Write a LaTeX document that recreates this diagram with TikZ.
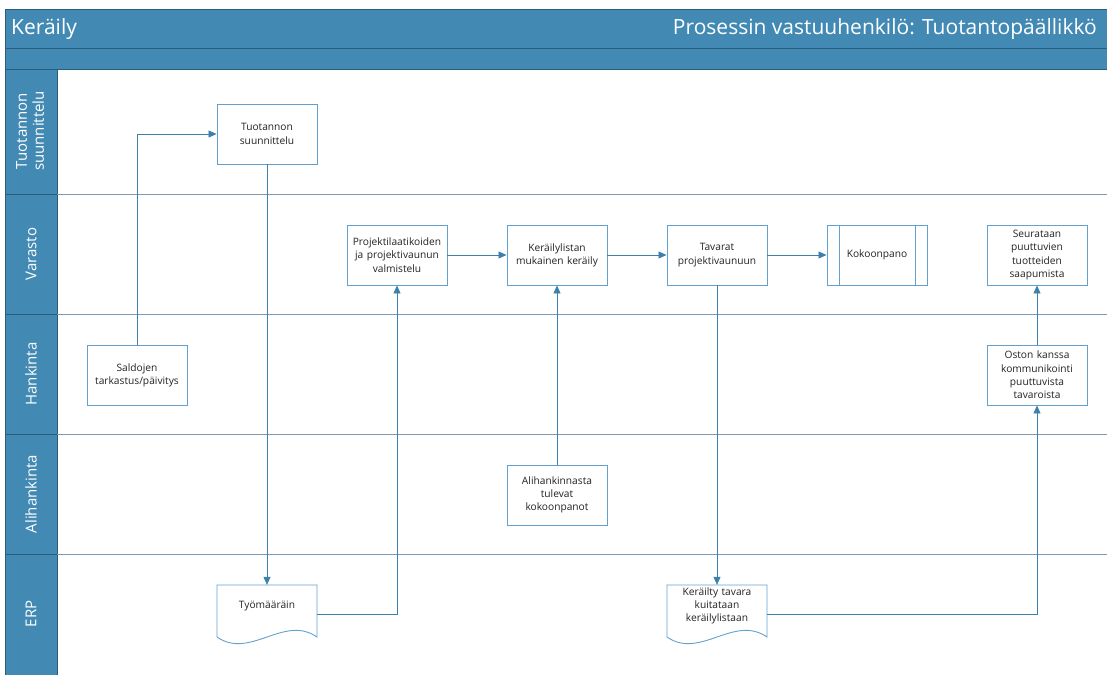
\documentclass[tikz,border=0pt]{standalone}
\usepackage{fontspec}
\setmainfont{Open Sans}
\usetikzlibrary{arrows.meta,calc}
\definecolor{hdr}{RGB}{66,138,180}
\definecolor{hdrline}{RGB}{45,92,122}
\definecolor{boxline}{RGB}{100,160,205}
\definecolor{conn}{RGB}{62,128,172}
\definecolor{laneline}{RGB}{125,155,180}
\definecolor{txt}{RGB}{35,35,35}
\begin{document}
\begin{tikzpicture}[x=1pt,y=-1pt,
  proc/.style={draw=boxline, line width=0.9pt, fill=white, minimum width=100pt, minimum height=60pt,
    align=center, text=txt, font=\fontsize{10.2}{13.3}\selectfont, inner sep=2pt, text width=96pt},
  doctext/.style={minimum width=100pt, minimum height=42pt, align=center, text=txt,
    font=\fontsize{10.2}{13.3}\selectfont, inner sep=2pt, text width=96pt},
  docline/.style={draw=boxline, line width=0.9pt, fill=white},
  flow/.style={draw=conn, line width=0.8pt, -{Triangle[length=8pt,width=7pt]}},
  lanelbl/.style={rotate=90, text=white, align=center, font=\fontsize{15}{17}\selectfont},
  titletext/.style={text=white, font=\fontsize{21}{25}\selectfont, inner sep=0pt}]
\useasboundingbox (0,0) rectangle (1107,675);
\fill[white] (0,0) rectangle (1107,675);
% header
\fill[hdr] (5,9) rectangle (1107,69);
\fill[hdr] (5,69) rectangle (57,675);
\draw[hdrline, line width=0.8pt] (1107,9) -- (5,9) -- (5,675);
\draw[hdrline, line width=0.8pt] (5,48) -- (1107,48);
\draw[hdrline, line width=1pt] (5,69) -- (1107,69);
\draw[hdrline, line width=0.8pt] (57,69) -- (57,675);
\foreach \yy in {194,314,434,554}{
  \draw[hdrline, line width=0.8pt] (5,\yy) -- (57,\yy);
  \draw[laneline, line width=0.8pt] (57,\yy) -- (1107,\yy);
}
\node[titletext, anchor=west] (title) at (11,29) {Keräily};
\node[titletext, anchor=east] (owner) at (1097,29) {Prosessin vastuuhenkilö: Tuotantopäällikkö};
% lane labels
\node[lanelbl] (lane1) at (30,131) {Tuotannon\\suunnittelu};
\node[lanelbl] (lane2) at (31,254) {Varasto};
\node[lanelbl] (lane3) at (31,374) {Hankinta};
\node[lanelbl] (lane4) at (31,494) {Alihankinta};
\node[lanelbl] (lane5) at (31,614) {ERP};
% process nodes
\node[proc] (tuot) at (267,134) {Tuotannon\\suunnittelu};
\node[proc] (sald) at (137,375) {Saldojen\\tarkastus/päivitys};
\node[proc] (proj) at (397,255) {Projektilaatikoiden\\ja projektivaunun\\valmistelu};
\node[proc] (keray) at (557,255) {Keräilylistan\\mukainen keräily};
\node[proc] (tava) at (717,255) {Tavarat\\projektivaunuun};
\node[proc] (koko) at (877,255) {Kokoonpano};
\draw[boxline, line width=0.9pt] (839,225) -- (839,285) (915,225) -- (915,285);
\node[proc] (seur) at (1037,255) {Seurataan\\puuttuvien\\tuotteiden\\saapumista};
\node[proc] (oston) at (1037,375) {Oston kanssa\\kommunikointi\\puuttuvista\\tavaroista};
\node[proc] (alih) at (557,495) {Alihankinnasta\\tulevat\\kokoonpanot};
% documents
\draw[docline] (217,585) -- (317,585) -- (317,637) .. controls (284,614) and (250,660) .. (217,637) -- cycle;
\draw[docline] (667,585) -- (767,585) -- (767,637) .. controls (734,614) and (700,660) .. (667,637) -- cycle;
\node[doctext] (doc1) at (267,606) {Työmääräin};
\node[doctext] (doc2) at (717,606) {Keräilty tavara\\kuitataan\\keräilylistaan};
\coordinate (doc1out) at (317,614);
\coordinate (doc2out) at (767,614);
% connectors
\draw[flow] (sald.north) |- (tuot.west);
\draw[flow] (tuot.south) -- (doc1.north);
\draw[flow] (doc1out) -| (proj.south);
\draw[flow] (proj.east) -- (keray.west);
\draw[flow] (keray.east) -- (tava.west);
\draw[flow] (tava.east) -- (koko.west);
\draw[flow] (alih.north) -- (keray.south);
\draw[flow] (tava.south) -- (doc2.north);
\draw[flow] (doc2out) -| (oston.south);
\draw[flow] (oston.north) -- (seur.south);
\end{tikzpicture}
\end{document}
